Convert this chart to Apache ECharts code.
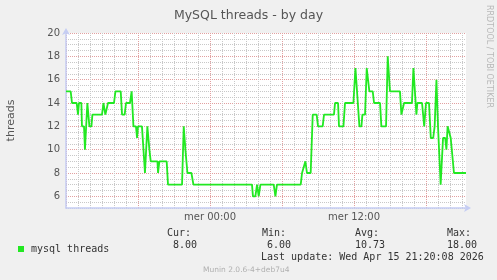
<!DOCTYPE html>
<html><head><meta charset="utf-8">
<script src="https://cdn.jsdelivr.net/npm/echarts@6/dist/echarts.min.js"></script>
<style>html,body{margin:0;padding:0;background:#f0f0f0}#c{width:497px;height:280px}</style>
</head><body><div id="c"></div>
<script>
// hours relative to Wed 00:00
const times = [
  -12.0, -11.61, -11.5, -11.11, -11.0, -10.92, -10.72, -10.67, -10.5, -10.42,
  -10.22, -10.05, -9.88, -9.8, -9.0, -8.88, -8.72, -8.5, -8.0, -7.88,
  -7.44, -7.33, -7.11, -7.0, -6.67, -6.53, -6.38, -6.17, -6.08, -6.0,
  -5.67, -5.42, -5.22, -5.05, -4.94, -4.38, -4.33, -4.22, -3.61, -3.5,
  -2.33, -2.19, -2.05, -1.88, -1.55, -1.38,
  3.5, 3.58, 3.78, 3.92, 4.06, 4.2, 5.31, 5.45, 5.58, 7.56,
  7.67, 7.83, 7.95, 8.08, 8.39, 8.56, 8.89, 9.0, 9.39, 9.5,
  10.33, 10.42, 10.67, 10.75, 11.12, 11.25, 11.95, 12.12, 12.45, 12.62,
  12.7, 12.92, 13.06, 13.28, 13.56, 13.67, 14.17, 14.28, 14.67, 14.81,
  15.0, 15.83, 15.95, 16.08, 16.17, 16.83, 16.95, 17.2, 17.28, 17.67,
  17.85, 18.0, 18.25, 18.4, 18.6, 18.72, 18.87, 19.0, 19.22, 19.42,
  19.6, 19.7, 19.8, 19.95, 20.06, 20.17, 20.33, 21.33
];
const threads = [
  15, 15, 14, 14, 13, 14, 14, 12, 12, 10,
  14, 12, 12, 13, 13, 14, 13, 14, 14, 15,
  15, 13, 13, 14, 14, 15, 12, 12, 11, 12,
  12, 8, 12, 10, 9, 9, 8, 9, 9, 7,
  7, 12, 10, 8, 8, 7,
  7, 6, 6, 7, 6, 7, 7, 6, 7, 7,
  8, 8, 9, 8, 8, 13, 13, 12, 12, 13,
  13, 14, 14, 12, 12, 14, 14, 17, 12, 12,
  13, 13, 17, 15, 15, 14, 14, 12, 12, 18,
  15, 15, 13, 13, 14, 14, 17, 13, 14, 14,
  12, 14, 14, 11, 11, 12, 16, 12, 7, 11,
  11, 10, 12, 12, 11, 11, 8, 8
];
const yTickLabels = [6, 8, 10, 12, 14, 16, 18, 20];
const xTickLabels = { '0': 'mer 00:00', '12': 'mer 12:00' };
const seriesName = 'mysql threads';
const statNames = ['Cur:', 'Min:', 'Avg:', 'Max:'];
const statValues = ['8.00', '6.00', '10.73', '18.00'];
const lastUpdate = 'Last update: Wed Apr 15 21:20:08 2026';
const footer = 'Munin 2.0.6-4+deb7u4';
const sideText = 'RRDTOOL / TOBI OETIKER';

const RED = '#e2a0a0', GRAY = '#c8c8c8', AXIS = '#c5cdf3', TXT = '#555', LINE = '#22e822';
const data = times.map((t, i) => [t, threads[i]]);
const statX = [167, 262, 355, 447];
const valX = [173, 267, 355, 447];
const graphics = [];
statNames.forEach((s, i) => {
  graphics.push({type:'text', left: statX[i], top: 228, style:{text:s, font:'10px "DejaVu Sans Mono"', fill:'#333'}});
  graphics.push({type:'text', left: valX[i], top: 240, style:{text:statValues[i], font:'10px "DejaVu Sans Mono"', fill:'#333'}});
});
graphics.push({type:'text', left: 261, top: 252, style:{text:lastUpdate, font:'10px "DejaVu Sans Mono"', fill:'#333'}});
graphics.push({type:'text', left: 203, top: 266, style:{text:footer, font:'7.5px "DejaVu Sans"', fill:'#b0b0b0'}});
graphics.push({type:'text', x: 489, y: 5, rotation: -Math.PI/2, style:{text:sideText, font:'8px "DejaVu Sans"', fill:'#b8b8b8', align:'left', verticalAlign:'middle'}});

const chart = echarts.init(document.getElementById('c'), null, {renderer:'canvas'});
chart.setOption({
  animation: false,
  backgroundColor: '#f0f0f0',
  title: { text: 'MySQL threads - by day', left: 'center', top: 4,
    textStyle: { fontSize: 12.5, fontWeight: 'normal', color: TXT, fontFamily: 'DejaVu Sans' } },
  legend: { data: [seriesName], left: 13, top: 239, icon: 'rect', itemWidth: 6, itemHeight: 6,
    textStyle: { fontFamily: 'DejaVu Sans Mono', fontSize: 10, color: '#333', padding: [0,0,0,2] } },
  grid: { left: 66, right: 31, top: 33, bottom: 72, show: true, backgroundColor: '#fff', borderWidth: 0, outerBoundsMode: 'none', containLabel: false },
  xAxis: {
    type: 'value', min: -12, max: 21.333, interval: 1,
    axisLine: { show: true, onZero: false, lineStyle: { color: AXIS, width: 1.5 }, symbol: ['none', 'arrow'], symbolSize: [6, 7], symbolOffset: [0, 5] },
    axisTick: { show: false },
    axisLabel: { formatter: v => xTickLabels[String(v)] || '', color: TXT, fontSize: 10, margin: 4, fontFamily: 'DejaVu Sans', showMaxLabel: false },
    splitLine: { show: true, showMaxLine: false, lineStyle: { type: 'dotted', width: 1, color: [RED, GRAY, GRAY, GRAY, GRAY, GRAY] } }
  },
  yAxis: {
    type: 'value', min: 5, max: 20, interval: 0.5,
    name: 'threads', nameLocation: 'middle', nameGap: 49,
    nameTextStyle: { fontSize: 11, color: TXT, fontFamily: 'DejaVu Sans' },
    axisLine: { show: true, onZero: false, lineStyle: { color: AXIS, width: 1.5 }, symbol: ['none', 'arrow'], symbolSize: [6, 7], symbolOffset: [0, 5] },
    axisTick: { show: false },
    axisLabel: { formatter: v => yTickLabels.includes(v) ? String(v) : '', color: TXT, fontSize: 10, margin: 6, fontFamily: 'DejaVu Sans' },
    splitLine: { show: true, lineStyle: { type: 'dotted', width: 1, color: [GRAY, GRAY, RED, GRAY] } }
  },
  series: [{
    name: seriesName, type: 'line', data: data, symbol: 'none',
    lineStyle: { width: 1.8, color: LINE }, itemStyle: { color: LINE }
  }],
  graphic: graphics
});
</script></body></html>
